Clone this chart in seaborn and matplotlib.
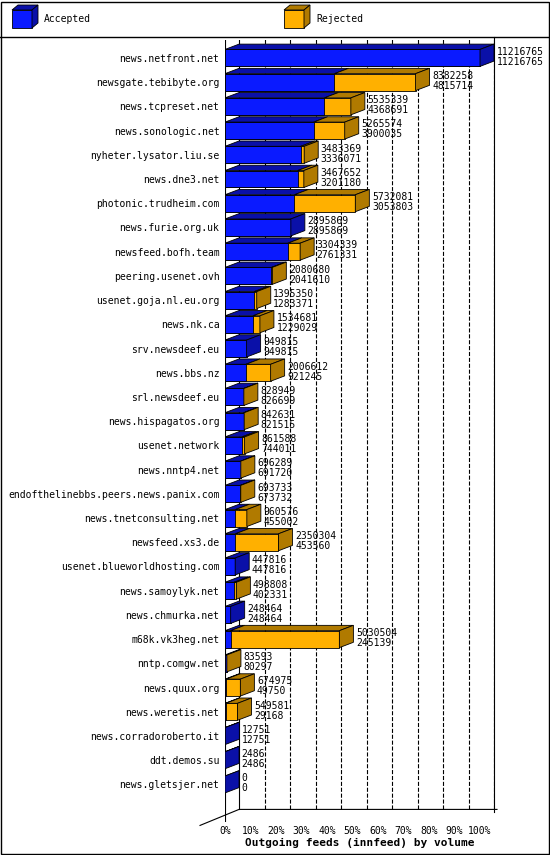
import matplotlib
matplotlib.use('Agg')
import matplotlib.pyplot as plt
import seaborn as sns
import numpy as np
import pandas as pd
from matplotlib.patches import Polygon, Rectangle

hosts = ['news.netfront.net', 'newsgate.tebibyte.org', 'news.tcpreset.net', 'news.sonologic.net',
         'nyheter.lysator.liu.se', 'news.dne3.net', 'photonic.trudheim.com', 'news.furie.org.uk',
         'newsfeed.bofh.team', 'peering.usenet.ovh', 'usenet.goja.nl.eu.org', 'news.nk.ca',
         'srv.newsdeef.eu', 'news.bbs.nz', 'srl.newsdeef.eu', 'news.hispagatos.org',
         'usenet.network', 'news.nntp4.net', 'endofthelinebbs.peers.news.panix.com',
         'news.tnetconsulting.net', 'newsfeed.xs3.de', 'usenet.blueworldhosting.com',
         'news.samoylyk.net', 'news.chmurka.net', 'm68k.vk3heg.net', 'nntp.comgw.net',
         'news.quux.org', 'news.weretis.net', 'news.corradoroberto.it', 'ddt.demos.su',
         'news.gletsjer.net']
offered = [11216765, 8382258, 5535339, 5265574, 3483369, 3467652, 5732081, 2895869,
           3304339, 2080680, 1395350, 1534681, 949815, 2006612, 828949, 842631,
           861588, 696289, 693733, 960576, 2350304, 447816, 498808, 248464,
           5030504, 83593, 674975, 549581, 12751, 2486, 0]
accepted = [11216765, 4815714, 4368691, 3900035, 3336071, 3201180, 3053803, 2895869,
            2761331, 2041610, 1283371, 1229029, 949815, 921245, 826699, 821515,
            744011, 691720, 673732, 455002, 453560, 447816, 402331, 248464,
            245139, 80297, 49750, 29168, 12751, 2486, 0]

BLUE, BLUE_D = '#0a1aff', '#0a10a8'
ORANGE, ORANGE_D = '#ffb000', '#b07a00'

mx = max(offered)
df = pd.DataFrame({'host': hosts,
                   'total': [v / mx * 100 for v in offered],
                   'acc': [v / mx * 100 for v in accepted]})

fig = plt.figure(figsize=(5.5, 8.55), dpi=100)
fig.patches.append(Rectangle((0.001, 0.001), 0.997, 0.997, transform=fig.transFigure,
                             fill=False, ec='black', lw=1))
fig.lines.append(plt.Line2D([0, 1], [1 - 37 / 855] * 2, transform=fig.transFigure, color='black', lw=1))

ax = fig.add_axes([225 / 550, 33 / 855, 270 / 550, 782 / 855])
mono = 'DejaVu Sans Mono'
n = len(hosts)
xmax = 100 * 270 / 255
dx, dy = 5.5, 0.22
h = 0.7
ybot = 31.55

# dashed gridlines on back plane
for p in range(10, 101, 10):
    ax.plot([p + dx, p + dx], [ybot - 0.3 - dy, -0.9], ls='--', color='black', lw=0.8, zorder=0)
ax.plot([dx, dx], [ybot - 0.3 - dy, -0.9], color='black', lw=0.8, zorder=0)
ax.plot([0, 0], [ybot, -0.9], color='black', lw=0.8, zorder=0)
# floor
ax.add_patch(Polygon([(-10, ybot + 0.15), (dx, ybot - 0.3 - dy), (xmax + 1, ybot - 0.3 - dy)],
                     closed=False, fill=False, ec='black', lw=0.8, clip_on=False))

sns.barplot(data=df, y='host', x='total', color=ORANGE, width=h, ax=ax, saturation=1,
            edgecolor='black', linewidth=0.6, orient='h', zorder=3)
sns.barplot(data=df, y='host', x='acc', color=BLUE, width=h, ax=ax, saturation=1,
            edgecolor='black', linewidth=0.6, orient='h', zorder=4)

for i, (t, a) in enumerate(zip(df['total'], df['acc'])):
    top = i - h / 2
    bot = i + h / 2
    ax.add_patch(Polygon([(0, top), (dx, top - dy), (a + dx, top - dy), (a, top)],
                         fc=BLUE_D, ec='black', lw=0.6, zorder=5))
    if t > a:
        ax.add_patch(Polygon([(a, top), (a + dx, top - dy), (t + dx, top - dy), (t, top)],
                             fc=ORANGE_D, ec='black', lw=0.6, zorder=5))
    side = ORANGE_D if t > a else BLUE_D
    ax.add_patch(Polygon([(t, top), (t + dx, top - dy), (t + dx, bot - dy), (t, bot)],
                         fc=side, ec='black', lw=0.6, zorder=5))
    ax.text(t + dx + 1, i - 0.05, f'{offered[i]}\n{accepted[i]}', fontsize=7, family=mono,
            va='center', ha='left', linespacing=1.0, zorder=6, clip_on=False)

ax.set_xlim(0, xmax)
ax.set_ylim(ybot, -0.74)
ax.set_xticks(range(0, 101, 10))
ax.set_xticklabels([f'{p}%' for p in range(0, 101, 10)], family=mono, fontsize=7)
ax.tick_params(axis='x', length=0, pad=3)
ax.tick_params(axis='y', length=0, pad=4)
ax.set_yticks(range(n))
ax.set_yticklabels(hosts, family=mono, fontsize=7)
ax.set_ylabel('')
ax.set_xlabel('Outgoing feeds (innfeed) by volume', family=mono, fontsize=8,
              fontweight='bold', labelpad=1)
for s in ax.spines.values():
    s.set_visible(False)
ax.patch.set_alpha(0)

fig.lines.append(plt.Line2D([494 / 550] * 2, [1 - 37 / 855, 1 - 812 / 855], transform=fig.transFigure,
                            color='black', lw=0.8))

# legend
X = lambda px: px / 550
Y = lambda py: 1 - py / 855
for x0, col, dcol, lab in [(12, BLUE, BLUE_D, 'Accepted'), (284, ORANGE, ORANGE_D, 'Rejected')]:
    fig.patches.append(Polygon([(X(x0), Y(28)), (X(x0 + 20), Y(28)), (X(x0 + 20), Y(10)), (X(x0), Y(10))],
                               transform=fig.transFigure, fc=col, ec='black', lw=0.6))
    fig.patches.append(Polygon([(X(x0), Y(10)), (X(x0 + 6), Y(5)), (X(x0 + 26), Y(5)), (X(x0 + 20), Y(10))],
                               transform=fig.transFigure, fc=dcol, ec='black', lw=0.6))
    fig.patches.append(Polygon([(X(x0 + 20), Y(10)), (X(x0 + 26), Y(5)), (X(x0 + 26), Y(23)), (X(x0 + 20), Y(28))],
                               transform=fig.transFigure, fc=dcol, ec='black', lw=0.6))
    fig.text(X(x0 + 32), Y(19), lab, family=mono, fontsize=7, va='center')

fig.savefig('out.png', dpi=100, facecolor='white')
